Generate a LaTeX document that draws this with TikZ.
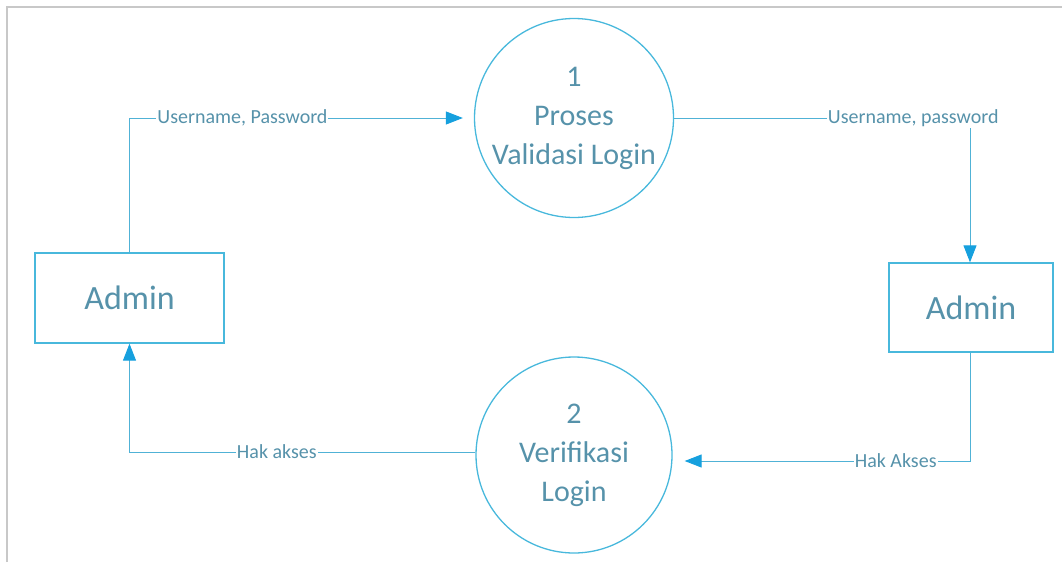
\documentclass[tikz,border=0pt]{standalone}
\usepackage{fontspec}
\setmainfont{Carlito}
\usetikzlibrary{arrows.meta}
\definecolor{shapeline}{RGB}{72,184,220}
\definecolor{flowline}{RGB}{80,178,214}
\definecolor{tipblue}{RGB}{22,160,222}
\definecolor{txt}{RGB}{86,146,170}
\definecolor{frame}{RGB}{200,200,200}
\tikzset{
  proc/.style={circle, draw=shapeline, line width=1.3pt, text=txt, align=center,
    font=\fontsize{30}{39}\selectfont, inner sep=0pt},
  entity/.style={rectangle, draw=shapeline, line width=1.3pt, text=txt,
    font=\fontsize{34}{40}\selectfont, inner sep=0pt},
  flow/.style={draw=flowline, line width=1pt, -{Triangle[length=17pt,width=13pt,fill=tipblue,color=tipblue]}},
  flowlbl/.style={fill=white, text=txt, inner sep=1pt, font=\fontsize{20}{23}\selectfont}
}
\begin{document}
\begin{tikzpicture}[x=1pt,y=-1pt]
\useasboundingbox (0,0) rectangle (1062,562);
\draw[frame, line width=1.2pt] (7,562) -- (7,7) -- (1062,7);
\node[proc, minimum size=199pt] (c1) at (574,118) {1\\Proses\\Validasi Login};
\node[proc, minimum size=196pt] (c2) at (574,455) {2\\Verifikasi\\Login};
\node[entity, minimum width=189pt, minimum height=90pt] (a1) at (129.5,298) {Admin};
\node[entity, minimum width=164pt, minimum height=89pt] (a2) at (971,307.5) {Admin};
\draw[flow, shorten >=11pt] (a1.north) |- (c1.west)
  node[flowlbl, pos=0.664] {Username, Password};
\draw[flow] (c1.east) -| ([xshift=-1pt]a2.north)
  node[flowlbl, pos=0.404] {Username, password};
\draw[flow, shorten >=12pt] ([xshift=-1pt]a2.south) |- ([yshift=-6pt]c2.east)
  node[flowlbl, pos=0.625] {Hak Akses};
\draw[flow] ([yshift=3pt]c2.west) -| (a1.south)
  node[flowlbl, pos=0.287] {Hak akses};
\end{tikzpicture}
\end{document}
